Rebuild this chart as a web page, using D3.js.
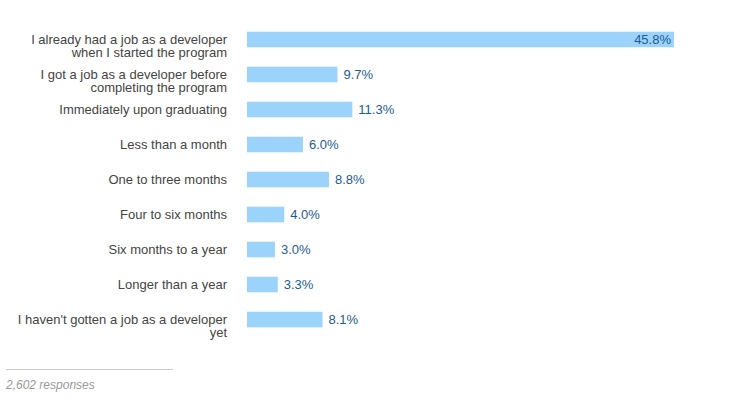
<!DOCTYPE html>
<html><head><meta charset="utf-8">
<script src="https://cdn.jsdelivr.net/npm/d3@7"></script>
<style>body{margin:0;background:#fff;}svg{display:block;font-family:Arial,"Liberation Sans",sans-serif;}</style>
</head><body>
<svg id="c" width="736" height="406"></svg>
<script>
const categories = [
  ["I already had a job as a developer","when I started the program"],
  ["I got a job as a developer before","completing the program"],
  ["Immediately upon graduating"],
  ["Less than a month"],
  ["One to three months"],
  ["Four to six months"],
  ["Six months to a year"],
  ["Longer than a year"],
  ["I haven't gotten a job as a developer","yet"]
];
const values = [45.8, 9.7, 11.3, 6.0, 8.8, 4.0, 3.0, 3.3, 8.1];
const responsesLabel = "2,602 responses";

const svg = d3.select("#c");
const x = d3.scaleLinear().domain([0, 45.8]).range([247, 674]);
const y = d3.scaleBand().domain(d3.range(values.length)).range([22, 337]).paddingInner(0.555).paddingOuter(0.277);

svg.append("g").selectAll("rect").data(values).join("rect")
  .attr("x", x(0)).attr("y", (d,i)=>y(i)).attr("width", d=>x(d)-x(0)).attr("height", y.bandwidth())
  .attr("fill", "#9cd3fb");

svg.append("g").selectAll("text").data(values).join("text")
  .attr("x", (d,i)=> i===0 ? x(d)-3 : x(d)+6)
  .attr("y", (d,i)=>y(i)+y.bandwidth()/2)
  .attr("dy", "0.35em")
  .attr("text-anchor", (d,i)=> i===0 ? "end" : "start")
  .attr("font-size", 13).attr("fill", "#1d5b8f")
  .text(d=>d.toFixed(1)+"%");

const lab = svg.append("g").selectAll("text").data(categories).join("text")
  .attr("x", 227).attr("y", (d,i)=>y(i)+y.bandwidth()/2)
  .attr("text-anchor", "end").attr("font-size", 13).attr("fill", "#444");
lab.selectAll("tspan").data(d=>d).join("tspan")
  .attr("x", 227).attr("dy", (d,j)=> j===0 ? "0.35em" : "13")
  .text(d=>d);

svg.append("line").attr("x1", 6).attr("x2", 173).attr("y1", 369.5).attr("y2", 369.5)
  .attr("stroke", "#ccc").attr("stroke-width", 1);
svg.append("text").attr("x", 6).attr("y", 389).attr("font-size", 12).attr("font-style", "italic")
  .attr("fill", "#999").text(responsesLabel);
</script>
</body></html>
